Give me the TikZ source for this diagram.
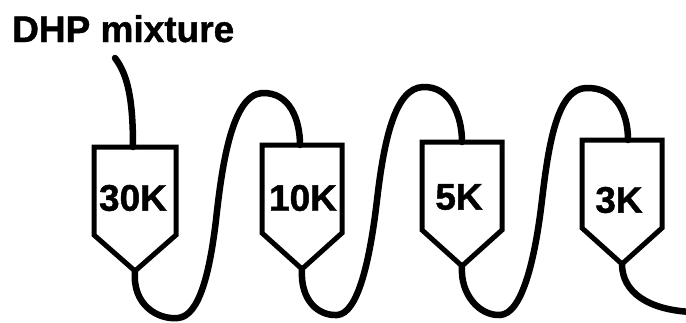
\documentclass[tikz,border=0pt]{standalone}
\usepackage{fontspec}
\setmainfont{Liberation Sans}
\newfontfamily\heavyfont{Liberation Sans Bold}[FakeBold=1.2]
\begin{document}
\begin{tikzpicture}[x=1pt,y=-1pt,
  tube/.style={line width=6.5pt,line cap=round},
  dev/.style={line width=5pt,line join=miter},
  lab/.style={font=\fontsize{37}{40}\heavyfont,inner sep=0pt}]
\useasboundingbox (0,0) rectangle (686,322);
% title
\node[lab,anchor=base west] (title) at (12,42) {DHP mixture};
% devices: center x, top y
\foreach \n/\cx/\ty/\hw in {a/135/147/41,b/302/145/40,c/462/142/40,d/622/140/40}{
  \draw[dev] (\cx-\hw,\ty) -- (\cx+\hw,\ty) -- (\cx+\hw,\ty+88) -- (\cx,\ty+124) -- (\cx-\hw,\ty+88) -- cycle;
}
\coordinate (ta) at (133,147); \coordinate (pa) at (135,271);
\coordinate (tb) at (300,145); \coordinate (pb) at (302,269);
\coordinate (tc) at (462,142); \coordinate (pc) at (462,266);
\coordinate (td) at (628,140); \coordinate (pd) at (622,264);
\node[lab] (la) at (133,198) {30K};
\node[lab] (lb) at (303,198) {10K};
\node[lab] (lc) at (459,197) {5K};
\node[lab] (ld) at (619,200) {3K};
\coordinate (in) at (115,58);
\coordinate (out) at (692,312);
% tubes
\draw[tube] (in) .. controls (128,75) and (133,100) .. (ta);
\draw[tube] (pa) .. controls (132,305) and (158,320) .. (178,318)
  .. controls (200,316) and (210,270) .. (216,220)
  .. controls (222,165) and (232,95) .. (262,93)
  .. controls (290,92) and (300,120) .. (tb);
\draw[tube] (pb) .. controls (300,300) and (318,316) .. (337,315)
  .. controls (358,314) and (370,260) .. (377,200)
  .. controls (384,140) and (395,88) .. (423,87)
  .. controls (450,86) and (462,115) .. (tc);
\draw[tube] (pc) .. controls (460,295) and (480,316) .. (500,315)
  .. controls (522,314) and (535,260) .. (542,200)
  .. controls (549,140) and (558,89) .. (586,88)
  .. controls (614,87) and (628,110) .. (td);
\draw[tube] (pd) .. controls (622,292) and (648,310) .. (out);
\end{tikzpicture}
\end{document}
